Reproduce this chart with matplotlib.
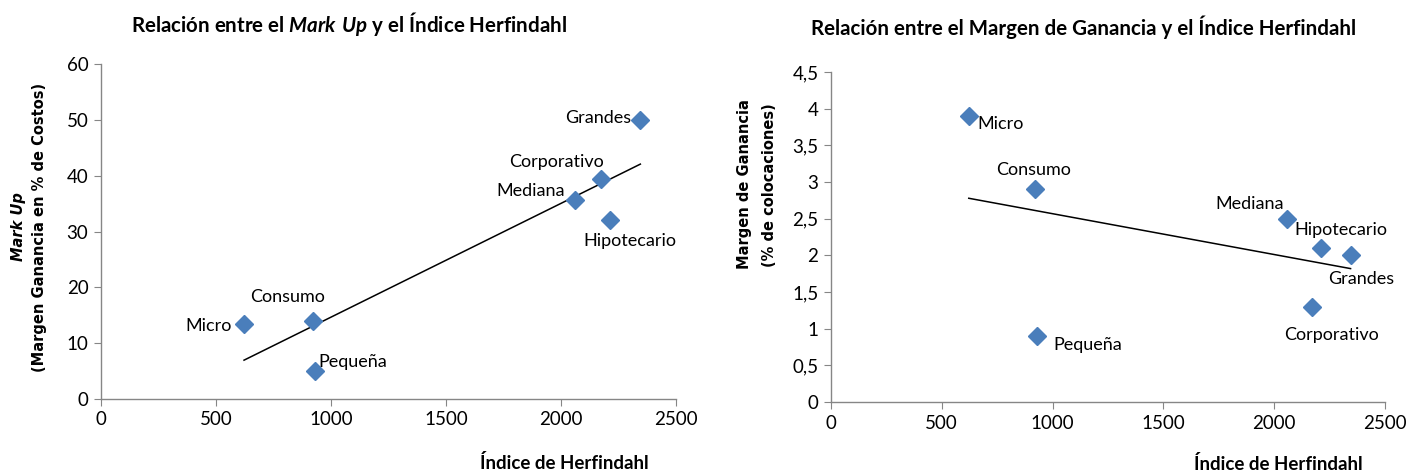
import numpy as np
import matplotlib
matplotlib.use("Agg")
import matplotlib.pyplot as plt
from matplotlib.ticker import FixedLocator, FixedFormatter

plt.rcParams["font.family"] = ["Lato", "DejaVu Sans"]
plt.rcParams["mathtext.fontset"] = "custom"
plt.rcParams["mathtext.bfit"] = "Lato:italic:bold"
plt.rcParams["mathtext.rm"] = "Lato"

segmentos = ["Micro", "Consumo", "Pequeña", "Mediana", "Corporativo", "Hipotecario", "Grandes"]
herfindahl = [622, 920, 930, 2060, 2172, 2213, 2345]
mark_up = [13.5, 14.0, 5.0, 35.6, 39.4, 32.0, 50.0]
margen = [3.9, 2.9, 0.9, 2.5, 1.3, 2.1, 2.0]

xticks = [0, 500, 1000, 1500, 2000, 2500]
yticks_izq = [0, 10, 20, 30, 40, 50, 60]
yticks_der = [0, 0.5, 1, 1.5, 2, 2.5, 3, 3.5, 4, 4.5]
ylabels_der = ["0", "0,5", "1", "1,5", "2", "2,5", "3", "3,5", "4", "4,5"]

# label offsets in pixels (dx, dy, ha)
off_izq = {
    "Micro": (-12, -2, "right"),
    "Consumo": (-25, 24, "center"),
    "Pequeña": (4, 9, "left"),
    "Mediana": (-10, 9, "right"),
    "Corporativo": (-44, 17, "center"),
    "Hipotecario": (20, -21, "center"),
    "Grandes": (-9, 2, "right"),
}
off_der = {
    "Micro": (9, -8, "left"),
    "Consumo": (-1, 19, "center"),
    "Pequeña": (16, -9, "left"),
    "Mediana": (-4, 15, "right"),
    "Corporativo": (19, -28, "center"),
    "Hipotecario": (20, 18, "center"),
    "Grandes": (11, -24, "center"),
}

azul = "#4A7EBB"
gris = "#868686"

fig = plt.figure(figsize=(14.06, 4.73), dpi=100)
ax1 = fig.add_axes([0.0718, 0.1565, 0.409, 0.708])
ax2 = fig.add_axes([0.591, 0.150, 0.394, 0.698])


def estilo(ax, yticks, ylim):
    for s in ["top", "right"]:
        ax.spines[s].set_visible(False)
    for s in ["left", "bottom"]:
        ax.spines[s].set_color(gris)
        ax.spines[s].set_linewidth(1)
    ax.set_xlim(0, 2500)
    ax.set_ylim(*ylim)
    ax.set_xticks(xticks)
    ax.yaxis.set_major_locator(FixedLocator(yticks))
    ax.tick_params(direction="out", length=5, color=gris, labelsize=13.5, pad=4)


def dibujar(ax, y, offs):
    ax.plot(herfindahl, y, "D", color=azul, ms=9.5, mec=azul, zorder=3)
    m, b = np.polyfit(herfindahl, y, 1)
    xs = np.array([min(herfindahl), max(herfindahl)])
    ax.plot(xs, m * xs + b, color="black", lw=1.1, zorder=2)
    for nom, xv, yv in zip(segmentos, herfindahl, y):
        dx, dy, ha = offs[nom]
        ax.annotate(nom, (xv, yv), xytext=(dx, dy), textcoords="offset pixels",
                    ha=ha, va="center", fontsize=13)


estilo(ax1, yticks_izq, (0, 60))
dibujar(ax1, mark_up, off_izq)

estilo(ax2, yticks_der, (0, 4.5))
ax2.yaxis.set_major_formatter(FixedFormatter(ylabels_der))
dibujar(ax2, margen, off_der)

fig.text(349 / 1406, 1 - 24 / 473, r"Relación entre el $\mathbfit{Mark\ Up}$ y el Índice Herfindahl",
         ha="center", va="center", fontsize=14.8, fontweight="bold")
fig.text(1084 / 1406, 1 - 27 / 473, "Relación entre el Margen de Ganancia y el Índice Herfindahl",
         ha="center", va="center", fontsize=14.8, fontweight="bold")

fig.text(564 / 1406, 1 - 463 / 473, "Índice de Herfindahl", ha="center", va="center",
         fontsize=13.5, fontweight="bold")
fig.text(1278 / 1406, 1 - 464 / 473, "Índice de Herfindahl", ha="center", va="center",
         fontsize=13.5, fontweight="bold")

# y labels (Verdana-like bold)
fig.text(19 / 1406, 1 - 227 / 473, "Mark Up", ha="center", va="center", rotation=90,
         fontsize=10.5, fontweight="bold", style="italic", family="DejaVu Sans")
fig.text(40 / 1406, 1 - 227 / 473, "(Margen Ganancia en % de Costos)", ha="center", va="center",
         rotation=90, fontsize=10.5, fontweight="bold", family="DejaVu Sans")
fig.text(744 / 1406, 1 - 184 / 473, "Margen de Ganancia", ha="center", va="center", rotation=90,
         fontsize=10.5, fontweight="bold", family="DejaVu Sans")
fig.text(770 / 1406, 1 - 185 / 473, "(% de colocaciones)", ha="center", va="center",
         rotation=90, fontsize=10.5, fontweight="bold", family="DejaVu Sans")

fig.savefig("out.png", dpi=100)
